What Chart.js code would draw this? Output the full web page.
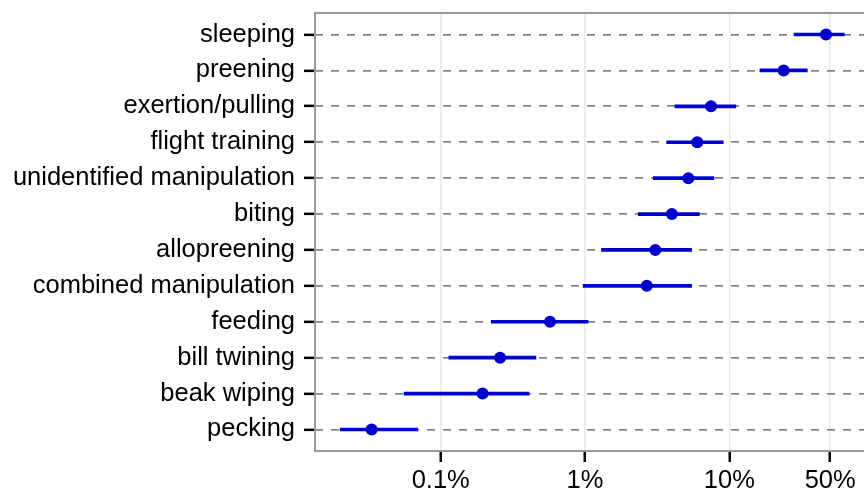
<!DOCTYPE html>
<html>
<head>
<meta charset="utf-8">
<title>Behaviour frequencies</title>
<script src="https://cdn.jsdelivr.net/npm/chart.js@4"></script>
<style>
  html, body { margin: 0; padding: 0; background: #fff; }
  #chart { display: block; }
</style>
</head>
<body>
<canvas id="chart" width="864" height="492"></canvas>
<script>
// behaviours, top to bottom
var categories = ['sleeping', 'preening', 'exertion/pulling', 'flight training',
  'unidentified manipulation', 'biting', 'allopreening', 'combined manipulation',
  'feeding', 'bill twining', 'beak wiping', 'pecking'];

// percent of time (point estimate and interval)
var estimate = [46.8, 23.8, 7.47, 6.0, 5.2, 4.0, 3.07, 2.68, 0.572, 0.258, 0.195, 0.0332];
var lower    = [28.1, 16.3, 4.2, 3.68, 2.97, 2.34, 1.30, 0.97, 0.224, 0.114, 0.0557, 0.0201];
var upper    = [62.7, 34.7, 11.1, 9.08, 7.83, 6.2, 5.48, 5.48, 1.05, 0.457, 0.409, 0.0693];

// x axis tick values (percent)
var xTicks = [0.1, 1, 10, 50];

var blue = '#0000cd';
var labelFont = { family: "'Liberation Sans', Arial, Helvetica, sans-serif", size: 25.5 };

// grey panel border (left, top, bottom; right edge is cut off)
var panelBorder = {
  id: 'panelBorder',
  beforeDatasetsDraw: function(chart) {
    var a = chart.chartArea, ctx = chart.ctx;
    ctx.save();
    ctx.strokeStyle = '#999999';
    ctx.lineWidth = 2;
    ctx.beginPath();
    ctx.moveTo(a.right + 2, a.top);
    ctx.lineTo(a.left, a.top);
    ctx.lineTo(a.left, a.bottom);
    ctx.lineTo(a.right + 2, a.bottom);
    ctx.stroke();
    ctx.restore();
  }
};

new Chart(document.getElementById('chart').getContext('2d'), {
  data: {
    datasets: [{
      type: 'scatter',
      data: categories.map(function(c, i) { return { x: estimate[i], y: i }; }),
      backgroundColor: blue,
      borderColor: blue,
      pointRadius: 6,
      pointBorderWidth: 0,
      order: 0
    }, {
      type: 'bar',
      indexAxis: 'y',
      data: categories.map(function(c, i) { return { x: [lower[i], upper[i]], y: i }; }),
      backgroundColor: blue,
      borderWidth: 0,
      barThickness: 3,
      order: 1
    }]
  },
  options: {
    responsive: false,
    animation: false,
    layout: { autoPadding: false, padding: { top: 13, right: 0, bottom: 0, left: 0 } },
    plugins: { legend: { display: false }, tooltip: { enabled: false } },
    scales: {
      x: {
        type: 'logarithmic',
        min: 0.01345,
        max: 85.8,
        afterBuildTicks: function(scale) {
          scale.ticks = xTicks.map(function(v) { return { value: v }; });
        },
        afterFit: function(scale) {
          scale.height = 41;
          scale.paddingLeft = 0;
          scale.paddingRight = 0;
        },
        ticks: {
          autoSkip: false,
          maxRotation: 0,
          padding: 4,
          color: '#000',
          font: labelFont,
          callback: function(v) { return v + '%'; }
        },
        grid: {
          color: '#e8e8e8',
          lineWidth: 1.5,
          tickColor: '#000',
          tickWidth: 2.5,
          tickLength: 11
        },
        border: { display: false }
      },
      y: {
        type: 'linear',
        reverse: true,
        offset: false,
        min: -0.6,
        max: categories.length - 0.4,
        afterBuildTicks: function(scale) {
          scale.ticks = categories.map(function(c, i) { return { value: i }; });
        },
        afterFit: function(scale) {
          scale.width = 315;
          scale.paddingTop = 0;
          scale.paddingBottom = 0;
        },
        ticks: {
          autoSkip: false,
          padding: 9,
          color: '#000',
          font: labelFont,
          callback: function(v) { return categories[v]; }
        },
        grid: {
          offset: false,
          color: '#808080',
          lineWidth: 1.7,
          tickColor: '#000',
          tickWidth: 2.5,
          tickLength: 11,
          tickBorderDash: []
        },
        border: { display: false, dash: [8, 8] }
      }
    }
  },
  plugins: [panelBorder]
});
</script>
</body>
</html>
